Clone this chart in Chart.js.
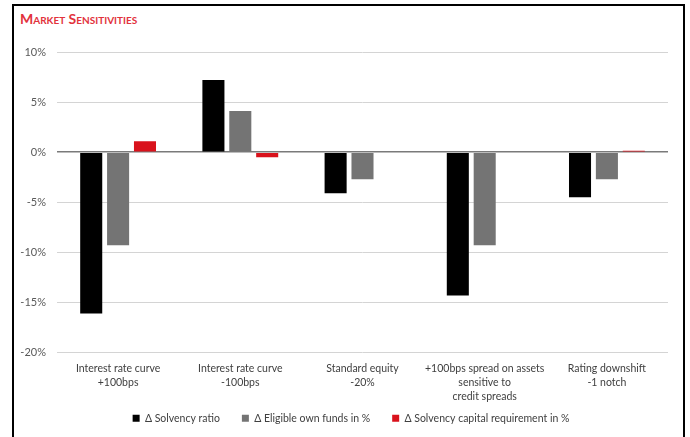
<!DOCTYPE html>
<html>
<head>
<meta charset="utf-8">
<script src="https://cdn.jsdelivr.net/npm/chart.js@4/dist/chart.umd.min.js"></script>
<style>
  html, body { margin: 0; padding: 0; background: #fff; }
  #wrap { position: relative; width: 690px; height: 437px; overflow: hidden; }
  #frame { position: absolute; left: 12px; top: 4px; width: 669px; height: 440px;
           border-left: 2px solid #000; border-top: 2px solid #000; border-right: 2px solid #000; }
  #title { position: absolute; left: 20px; top: 10px; font-family: Lato, "Liberation Sans", sans-serif;
           font-variant: small-caps; font-weight: bold; color: #e2323c; font-size: 14px; }
  #c { position: absolute; left: 0; top: 0; }
</style>
</head>
<body>
<div id="wrap">
  <div id="frame"></div>
  <div id="title">Market Sensitivities</div>
  <canvas id="c" width="690" height="437"></canvas>
</div>
<script>
const categories = [
  ["Interest rate curve", "+100bps"],
  ["Interest rate curve", "-100bps"],
  ["Standard equity", "-20%"],
  ["+100bps spread on assets", "sensitive to", "credit spreads"],
  ["Rating downshift", "-1 notch"]
];
const solvencyRatio = [-16.1, 7.2, -4.1, -14.3, -4.5];
const eligibleOwnFunds = [-9.3, 4.1, -2.7, -9.3, -2.7];
const scrChange = [1.1, -0.5, 0, 0, 0.15];
const seriesNames = ["\u0394 Solvency ratio", "\u0394 Eligible own funds in %", "\u0394 Solvency capital requirement in %"];
const yTicks = [10, 5, 0, -5, -10, -15, -20];

const font = "Lato, 'Liberation Sans', sans-serif";

const legendPlacer = {
  id: 'legendPlacer',
  afterLayout(chart) {
    const L = chart.legend;
    if (!L) return;
    const h = L.bottom - L.top;
    const dx = 17;
    L.left += dx; L.right += dx;
    L.top = 391; L.bottom = 391 + h;
  }
};

new Chart(document.getElementById('c'), {
  type: 'bar',
  data: {
    labels: categories,
    datasets: [
      { label: seriesNames[0], data: solvencyRatio, backgroundColor: '#000000' },
      { label: seriesNames[1], data: eligibleOwnFunds, backgroundColor: '#747474' },
      { label: seriesNames[2], data: scrChange, backgroundColor: '#d9121c' }
    ]
  },
  plugins: [legendPlacer],
  options: {
    responsive: false,
    animation: false,
    devicePixelRatio: 1,
    layout: { padding: { left: 0, right: 22, top: 52, bottom: -14 } },
    datasets: { bar: { categoryPercentage: 0.66, barPercentage: 0.82 } },
    plugins: {
      tooltip: { enabled: false },
      legend: {
        position: 'bottom',
        labels: {
          boxWidth: 7, boxHeight: 7, padding: 22,
          color: '#404040', font: { family: font, size: 10.5 }
        }
      }
    },
    scales: {
      x: {
        grid: { display: false },
        border: { display: false },
        ticks: { color: '#404040', font: { family: font, size: 10.5, lineHeight: 1.33 }, maxRotation: 0, autoSkip: false, padding: 1 },
        afterFit: s => { s.height = 56; }
      },
      y: {
        min: -20, max: 10,
        afterBuildTicks: s => { s.ticks = yTicks.map(v => ({ value: v })); },
        grid: {
          color: c => c.tick && c.tick.value === 0 ? '#7a7a7a' : '#d4d4d4',
          lineWidth: c => c.tick && c.tick.value === 0 ? 1.5 : 1,
          drawTicks: false
        },
        border: { display: false },
        ticks: { color: '#595959', font: { family: font, size: 11 }, padding: 11, callback: v => v + '%' },
        afterFit: s => { s.width = 57; }
      }
    }
  }
});
</script>
</body>
</html>
